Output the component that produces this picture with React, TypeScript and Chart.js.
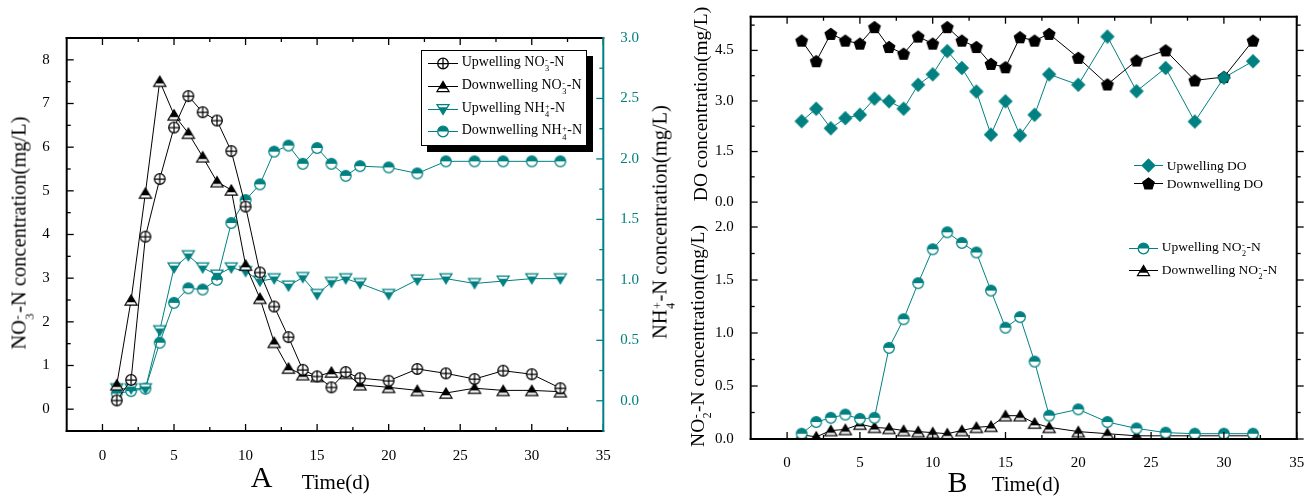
import React, { useEffect, useRef } from "react";
import { Chart, registerables } from "chart.js";

Chart.register(...registerables);

const SERIF = '"Liberation Serif", "Times New Roman", serif';
const CANVAS_FONT = "Liberation Serif";
const TEAL = "#008080";

Chart.defaults.font.family = CANVAS_FONT;

// ---------- data ----------
const days = [1, 2, 3, 4, 5, 6, 7, 8, 9, 10, 11, 12, 13, 14, 15, 16, 17, 18, 20, 22, 24, 26, 28, 30, 32];

const upNO3 = [0.2, 0.67, 3.95, 5.27, 6.45, 7.17, 6.8, 6.61, 5.91, 4.64, 3.13, 2.35, 1.65, 0.9, 0.75, 0.5, 0.85, 0.71, 0.65, 0.92, 0.82, 0.69, 0.88, 0.8, 0.48];
const downNO3 = [0.56, 2.5, 4.95, 7.51, 6.74, 6.32, 5.78, 5.21, 5.02, 3.3, 2.54, 1.53, 0.94, 0.79, 0.75, 0.85, 0.82, 0.56, 0.5, 0.43, 0.37, 0.48, 0.43, 0.43, 0.4];
const upNH4 = [0.1, 0.1, 0.1, 0.58, 1.1, 1.2, 1.1, 1.04, 1.1, 1.07, 0.99, 1.01, 0.95, 1.02, 0.88, 0.98, 1.01, 0.97, 0.88, 1.0, 1.01, 0.97, 0.99, 1.01, 1.01];
const downNH4 = [0.06, 0.08, 0.1, 0.48, 0.81, 0.93, 0.92, 1.0, 1.47, 1.66, 1.79, 2.06, 2.11, 1.96, 2.09, 1.96, 1.86, 1.94, 1.93, 1.88, 1.98, 1.98, 1.98, 1.98, 1.98];

const upDO = [2.4, 2.77, 2.19, 2.49, 2.59, 3.07, 2.99, 2.77, 3.48, 3.79, 4.48, 3.98, 3.28, 2.0, 2.99, 1.98, 2.59, 3.79, 3.48, 4.91, 3.29, 3.98, 2.39, 3.69, 4.18];
const downDO = [4.79, 4.18, 4.99, 4.79, 4.7, 5.19, 4.6, 4.4, 4.91, 4.7, 5.19, 4.79, 4.6, 4.1, 4.0, 4.89, 4.79, 4.99, 4.28, 3.49, 4.2, 4.5, 3.61, 3.71, 4.79];
const upNO2 = [0.05, 0.16, 0.2, 0.23, 0.19, 0.2, 0.86, 1.13, 1.47, 1.79, 1.95, 1.85, 1.76, 1.4, 1.05, 1.15, 0.73, 0.22, 0.28, 0.16, 0.1, 0.06, 0.05, 0.05, 0.05];
const downNO2 = [0.04, 0.02, 0.08, 0.09, 0.14, 0.11, 0.1, 0.08, 0.07, 0.06, 0.05, 0.08, 0.11, 0.12, 0.22, 0.22, 0.15, 0.11, 0.07, 0.05, 0.03, 0.03, 0.03, 0.03, 0.03];

// ---------- ticks ----------
const xTicks = [0, 5, 10, 15, 20, 25, 30, 35];
const xMinor = [2.5, 7.5, 12.5, 17.5, 22.5, 27.5, 32.5];
const no3Ticks = [0, 1, 2, 3, 4, 5, 6, 7, 8];
const no3Minor = [0.5, 1.5, 2.5, 3.5, 4.5, 5.5, 6.5, 7.5];
const nh4Ticks = [0, 0.5, 1, 1.5, 2, 2.5, 3];
const nh4Minor = [0.25, 0.75, 1.25, 1.75, 2.25, 2.75];
const doTicks = [0, 1.5, 3, 4.5];
const doMinor = [0.75, 2.25, 3.75, 5.25];
const no2Ticks = [0, 0.5, 1, 1.5, 2];
const no2Minor = [0.25, 0.75, 1.25, 1.75];

const pts = (xs: number[], ys: number[]) => xs.map((x, i) => ({ x, y: ys[i] }));

// ---------- markers ----------
function drawMarker(ctx: CanvasRenderingContext2D, kind: string, color: string, cx: number, cy: number) {
  ctx.save();
  ctx.lineWidth = 1.25;
  ctx.strokeStyle = color;
  if (kind === "circlePlus") {
    const r = 5.3;
    ctx.beginPath();
    ctx.arc(cx, cy, r, 0, Math.PI * 2);
    ctx.fillStyle = "#fff";
    ctx.fill();
    ctx.stroke();
    ctx.beginPath();
    ctx.moveTo(cx - r, cy);
    ctx.lineTo(cx + r, cy);
    ctx.moveTo(cx, cy - r);
    ctx.lineTo(cx, cy + r);
    ctx.stroke();
  } else if (kind === "halfCircle") {
    const r = 5.3;
    ctx.beginPath();
    ctx.arc(cx, cy, r, 0, Math.PI * 2);
    ctx.fillStyle = "#fff";
    ctx.fill();
    ctx.beginPath();
    ctx.arc(cx, cy, r, Math.PI, Math.PI * 2);
    ctx.closePath();
    ctx.fillStyle = color;
    ctx.fill();
    ctx.beginPath();
    ctx.arc(cx, cy, r, 0, Math.PI * 2);
    ctx.stroke();
  } else if (kind === "triUp" || kind === "triDown") {
    const w = 6, h = 10;
    const s = kind === "triUp" ? 1 : -1;
    const tip = { x: cx, y: cy - (s * h) / 2 };
    const b1 = { x: cx - w, y: cy + (s * h) / 2 };
    const b2 = { x: cx + w, y: cy + (s * h) / 2 };
    const f = 0.72;
    const p1 = { x: tip.x + (b1.x - tip.x) * f, y: tip.y + (b1.y - tip.y) * f };
    const p2 = { x: tip.x + (b2.x - tip.x) * f, y: tip.y + (b2.y - tip.y) * f };
    ctx.beginPath();
    ctx.moveTo(tip.x, tip.y);
    ctx.lineTo(b1.x, b1.y);
    ctx.lineTo(b2.x, b2.y);
    ctx.closePath();
    ctx.fillStyle = "#fff";
    ctx.fill();
    ctx.beginPath();
    ctx.moveTo(tip.x, tip.y);
    ctx.lineTo(p1.x, p1.y);
    ctx.lineTo(p2.x, p2.y);
    ctx.closePath();
    ctx.fillStyle = color;
    ctx.fill();
    ctx.beginPath();
    ctx.moveTo(tip.x, tip.y);
    ctx.lineTo(b1.x, b1.y);
    ctx.lineTo(b2.x, b2.y);
    ctx.closePath();
    ctx.stroke();
  } else if (kind === "diamond") {
    const r = 6.3;
    ctx.beginPath();
    ctx.moveTo(cx, cy - r);
    ctx.lineTo(cx + r, cy);
    ctx.lineTo(cx, cy + r);
    ctx.lineTo(cx - r, cy);
    ctx.closePath();
    ctx.fillStyle = color;
    ctx.fill();
    ctx.stroke();
  } else if (kind === "pentagon") {
    const r = 6;
    ctx.beginPath();
    for (let k = 0; k < 5; k++) {
      const ang = -Math.PI / 2 + (k * 2 * Math.PI) / 5;
      const px = cx + r * Math.cos(ang);
      const py = cy + 0.6 + r * Math.sin(ang);
      if (k === 0) ctx.moveTo(px, py);
      else ctx.lineTo(px, py);
    }
    ctx.closePath();
    ctx.fillStyle = color;
    ctx.fill();
    ctx.stroke();
  }
  ctx.restore();
}

function makeMarker(kind: string, color: string): HTMLCanvasElement {
  const c = document.createElement("canvas");
  c.width = 16;
  c.height = 16;
  const ctx = c.getContext("2d")!;
  drawMarker(ctx, kind, color, 8, 8);
  return c;
}

// ---------- frame / tick plugin ----------
type TickSpec = { scale: string; pos: string; major: number[]; minor: number[]; color: string; out?: boolean };
type BorderSpec = { pos: string; color: string };

function framePlugin(id: string, borders: BorderSpec[], ticks: TickSpec[]) {
  return {
    id,
    afterDatasetsDraw(chart: any) {
      const { ctx, chartArea: a } = chart;
      ctx.save();
      for (const t of ticks) {
        const sc = chart.scales[t.scale];
        const horiz = t.pos === "top" || t.pos === "bottom";
        const base = t.pos === "left" ? a.left : t.pos === "right" ? a.right : t.pos === "top" ? a.top : a.bottom;
        const inward = t.pos === "left" || t.pos === "top" ? 1 : -1;
        const dir = t.out ? -inward : inward;
        ctx.strokeStyle = t.color;
        ctx.lineWidth = 1.3;
        const mark = (v: number, len: number) => {
          const p = sc.getPixelForValue(v);
          if (horiz) {
            if (p < sc.left - 0.5 || p > sc.right + 0.5) return;
          } else if (p < sc.top - 0.5 || p > sc.bottom + 0.5) return;
          ctx.beginPath();
          if (horiz) {
            ctx.moveTo(p, base);
            ctx.lineTo(p, base + dir * len);
          } else {
            ctx.moveTo(base, p);
            ctx.lineTo(base + dir * len, p);
          }
          ctx.stroke();
        };
        t.major.forEach((v) => mark(v, 7));
        t.minor.forEach((v) => mark(v, 4));
      }
      ctx.lineWidth = 2;
      ctx.lineCap = "square";
      for (const b of borders) {
        ctx.strokeStyle = b.color;
        ctx.beginPath();
        if (b.pos === "left") {
          ctx.moveTo(a.left, a.top);
          ctx.lineTo(a.left, a.bottom);
        } else if (b.pos === "right") {
          ctx.moveTo(a.right, a.top);
          ctx.lineTo(a.right, a.bottom);
        } else if (b.pos === "top") {
          ctx.moveTo(a.left, a.top);
          ctx.lineTo(a.right, a.top);
        } else {
          ctx.moveTo(a.left, a.bottom);
          ctx.lineTo(a.right, a.bottom);
        }
        ctx.stroke();
      }
      ctx.restore();
    },
  };
}

const tickFont = { family: CANVAS_FONT, size: 15 };
const setTicks = (vals: number[]) => (s: any) => {
  s.ticks = vals.map((v) => ({ value: v }));
};

// ---------- helper text components ----------
function SS({ sub, sup }: { sub: string; sup: string }) {
  return (
    <span
      style={{
        display: "inline-flex",
        flexDirection: "column",
        fontSize: "0.6em",
        lineHeight: 1,
        verticalAlign: "0.38em",
        margin: "0 0.5px",
      }}
    >
      <span style={{ lineHeight: 1 }}>{sup}</span>
      <span style={{ lineHeight: 1 }}>{sub}</span>
    </span>
  );
}

function Sym({ kind, color, width }: { kind: string; color: string; width: number }) {
  const ref = useRef<HTMLCanvasElement>(null);
  useEffect(() => {
    const c = ref.current;
    if (!c) return;
    const ctx = c.getContext("2d")!;
    ctx.clearRect(0, 0, c.width, c.height);
    ctx.strokeStyle = color;
    ctx.lineWidth = 1;
    ctx.beginPath();
    ctx.moveTo(0, 8.5);
    ctx.lineTo(width, 8.5);
    ctx.stroke();
    drawMarker(ctx, kind, color, width / 2, 8.5);
  }, [kind, color, width]);
  return <canvas ref={ref} width={width} height={17} style={{ display: "block" }} />;
}

function LegendRow({
  left, cy, kind, color, width, gap, size, children,
}: {
  left: number; cy: number; kind: string; color: string; width: number; gap: number; size: number; children: React.ReactNode;
}) {
  return (
    <div
      style={{
        position: "absolute",
        left,
        top: cy - 8.5,
        height: 17,
        display: "flex",
        alignItems: "center",
        whiteSpace: "nowrap",
        fontSize: size,
        lineHeight: "17px",
      }}
    >
      <Sym kind={kind} color={color} width={width} />
      <span style={{ marginLeft: gap }}>{children}</span>
    </div>
  );
}

function VTitle({ cx, cy, size, children }: { cx: number; cy: number; size: number; children: React.ReactNode }) {
  return (
    <div
      style={{
        position: "absolute",
        left: cx,
        top: cy,
        transform: "translate(-50%, -50%) rotate(-90deg)",
        whiteSpace: "nowrap",
        fontSize: size,
        lineHeight: 1.2,
      }}
    >
      {children}
    </div>
  );
}

export default function App() {
  const refA = useRef<HTMLCanvasElement>(null);
  const refB = useRef<HTMLCanvasElement>(null);

  useEffect(() => {
    const mCirclePlus = makeMarker("circlePlus", "#000");
    const mTriBlack = makeMarker("triUp", "#000");
    const mTriDownTeal = makeMarker("triDown", TEAL);
    const mHalfTeal = makeMarker("halfCircle", TEAL);
    const mDiamond = makeMarker("diamond", TEAL);
    const mPent = makeMarker("pentagon", "#000");

    const ds = (data: any, color: string, marker: HTMLCanvasElement, axis: string) => ({
      data,
      yAxisID: axis,
      borderColor: color,
      backgroundColor: color,
      borderWidth: 1,
      pointStyle: marker,
      pointRadius: 5,
      pointHoverRadius: 5,
      fill: false,
      tension: 0,
    });

    const chartA = new Chart(refA.current!, {
      type: "line",
      data: {
        datasets: [
          ds(pts(days, upNO3), "#000", mCirclePlus, "y"),
          ds(pts(days, downNO3), "#000", mTriBlack, "y"),
          ds(pts(days, upNH4), TEAL, mTriDownTeal, "y1"),
          ds(pts(days, downNH4), TEAL, mHalfTeal, "y1"),
        ] as any,
      },
      options: {
        responsive: false,
        animation: false,
        devicePixelRatio: 1,
        events: [],
        layout: { padding: { left: 0, top: 38, right: 0, bottom: 0 } },
        plugins: { legend: { display: false }, tooltip: { enabled: false } },
        scales: {
          x: {
            type: "linear",
            min: -2.5,
            max: 35,
            grid: { display: false },
            border: { display: false },
            ticks: { font: tickFont, color: "#000", padding: 8, maxRotation: 0, autoSkip: false },
            afterBuildTicks: setTicks(xTicks),
            afterFit: (s: any) => {
              s.height = 66;
              s.paddingLeft = 0;
              s.paddingRight = 0;
            },
          },
          y: {
            type: "linear",
            position: "left",
            min: -0.5,
            max: 8.5,
            grid: { display: false },
            border: { display: false },
            ticks: { font: tickFont, color: "#000", padding: 9, autoSkip: false, callback: (v: any) => String(v) },
            afterBuildTicks: setTicks(no3Ticks),
            afterFit: (s: any) => {
              s.width = 66.7;
              s.paddingTop = 0;
              s.paddingBottom = 0;
            },
          },
          y1: {
            type: "linear",
            position: "right",
            min: -0.25,
            max: 3.0,
            grid: { display: false },
            border: { display: false },
            ticks: { font: tickFont, color: TEAL, padding: 9, autoSkip: false, callback: (v: any) => Number(v).toFixed(1) },
            afterBuildTicks: setTicks(nh4Ticks),
            afterFit: (s: any) => {
              s.width = 46.7;
              s.paddingTop = 0;
              s.paddingBottom = 0;
            },
          },
        },
      } as any,
      plugins: [
        framePlugin(
          "frameA",
          [
            { pos: "left", color: "#000" },
            { pos: "top", color: "#000" },
            { pos: "bottom", color: "#000" },
            { pos: "right", color: TEAL },
          ],
          [
            { scale: "x", pos: "bottom", major: xTicks, minor: xMinor, color: "#000" },
            { scale: "x", pos: "top", major: xTicks, minor: xMinor, color: "#000" },
            { scale: "y", pos: "left", major: no3Ticks, minor: no3Minor, color: "#000" },
            { scale: "y1", pos: "right", major: nh4Ticks, minor: nh4Minor, color: TEAL },
          ]
        ) as any,
      ],
    });

    const chartB = new Chart(refB.current!, {
      type: "line",
      data: {
        datasets: [
          ds(pts(days, upDO), TEAL, mDiamond, "yDO"),
          ds(pts(days, downDO), "#000", mPent, "yDO"),
          ds(pts(days, upNO2), TEAL, mHalfTeal, "yNO2"),
          ds(pts(days, downNO2), "#000", mTriBlack, "yNO2"),
        ] as any,
      },
      options: {
        responsive: false,
        animation: false,
        devicePixelRatio: 1,
        events: [],
        layout: { padding: { left: 0, top: 16.7, right: 9.3, bottom: 0 } },
        plugins: { legend: { display: false }, tooltip: { enabled: false } },
        scales: {
          x: {
            type: "linear",
            min: -2.5,
            max: 35,
            grid: { display: false },
            border: { display: false },
            ticks: { font: tickFont, color: "#000", padding: 7, maxRotation: 0, autoSkip: false },
            afterBuildTicks: setTicks(xTicks),
            afterFit: (s: any) => {
              s.height = 58;
              s.paddingLeft = 0;
              s.paddingRight = 0;
            },
          },
          yDO: {
            type: "linear",
            position: "left",
            stack: "b",
            stackWeight: 185.4,
            weight: 1,
            min: 0,
            max: 5.5,
            grid: { display: false },
            border: { display: false },
            ticks: { font: tickFont, color: "#000", padding: 9, autoSkip: false, callback: (v: any) => Number(v).toFixed(1) },
            afterBuildTicks: setTicks(doTicks),
            afterFit: (s: any) => {
              s.width = 100.7;
              s.paddingTop = 0;
              s.paddingBottom = 0;
            },
          },
          yNO2: {
            type: "linear",
            position: "left",
            stack: "b",
            stackWeight: 236.9,
            weight: 0,
            min: 0,
            max: 2.235,
            grid: { display: false },
            border: { display: false },
            ticks: { font: tickFont, color: "#000", padding: 9, autoSkip: false, callback: (v: any) => Number(v).toFixed(1) },
            afterBuildTicks: setTicks(no2Ticks),
            afterFit: (s: any) => {
              s.width = 100.7;
              s.paddingTop = 0;
              s.paddingBottom = 0;
            },
          },
        },
      } as any,
      plugins: [
        framePlugin(
          "frameB",
          [
            { pos: "left", color: "#000" },
            { pos: "top", color: "#000" },
            { pos: "bottom", color: "#000" },
            { pos: "right", color: "#000" },
          ],
          [
            { scale: "x", pos: "bottom", major: xTicks, minor: xMinor, color: "#000" },
            { scale: "x", pos: "top", major: xTicks, minor: xMinor, color: "#000" },
            { scale: "yDO", pos: "left", major: doTicks, minor: doMinor, color: "#000" },
            { scale: "yNO2", pos: "left", major: no2Ticks, minor: no2Minor, color: "#000" },
            { scale: "yDO", pos: "right", major: doTicks, minor: doMinor, color: "#000", out: true },
            { scale: "yNO2", pos: "right", major: no2Ticks, minor: no2Minor, color: "#000", out: true },
          ]
        ) as any,
      ],
    });

    return () => {
      chartA.destroy();
      chartB.destroy();
    };
  }, []);

  return (
    <div
      style={{
        position: "fixed",
        left: 0,
        top: 0,
        width: 1306,
        height: 497,
        background: "#fff",
        overflow: "hidden",
        fontFamily: SERIF,
        color: "#000",
      }}
    >
      <canvas ref={refA} width={650} height={497} style={{ position: "absolute", left: 0, top: 0, width: 650, height: 497 }} />
      <canvas ref={refB} width={656} height={497} style={{ position: "absolute", left: 650, top: 0, width: 656, height: 497 }} />

      {/* Axis titles chart A */}
      <VTitle cx={21} cy={233} size={20.5}>
        NO<SS sub="3" sup="-" />-N concentration(mg/L)
      </VTitle>
      <VTitle cx={662} cy={221.5} size={20.5}>
        NH<SS sub="4" sup="+" />-N concentration(mg/L)
      </VTitle>

      {/* Axis titles chart B */}
      <VTitle cx={701} cy={103.5} size={19.5}>
        DO concentration(mg/L)
      </VTitle>
      <VTitle cx={700} cy={336} size={19.5}>
        NO<SS sub="2" sup="-" />-N concentration(mg/L)
      </VTitle>

      {/* Panel labels and x titles */}
      <div style={{ position: "absolute", left: 261.7, top: 461.6, transform: "translateX(-50%)", fontSize: 30, lineHeight: 1 }}>A</div>
      <div style={{ position: "absolute", left: 301.7, top: 472.4, fontSize: 21, lineHeight: 1, whiteSpace: "nowrap" }}>Time(d)</div>
      <div style={{ position: "absolute", left: 957.5, top: 466.6, transform: "translateX(-50%)", fontSize: 30, lineHeight: 1 }}>B</div>
      <div style={{ position: "absolute", left: 991.7, top: 474, fontSize: 21, lineHeight: 1, whiteSpace: "nowrap" }}>Time(d)</div>

      {/* Legend A */}
      <div
        style={{
          position: "absolute",
          left: 420.7,
          top: 50,
          width: 166.7,
          height: 95.7,
          boxSizing: "border-box",
          border: "1.3px solid #000",
          background: "#fff",
          boxShadow: "6px 6px 0 #000",
        }}
      />
      <LegendRow left={428} cy={63.3} kind="circlePlus" color="#000" width={30} gap={3.7} size={14}>
        Upwelling NO<SS sub="3" sup="-" />-N
      </LegendRow>
      <LegendRow left={428} cy={86} kind="triUp" color="#000" width={30} gap={3.7} size={14}>
        Downwelling NO<SS sub="3" sup="-" />-N
      </LegendRow>
      <LegendRow left={428} cy={109} kind="triDown" color={TEAL} width={30} gap={3.7} size={14}>
        Upwelling NH<SS sub="4" sup="+" />-N
      </LegendRow>
      <LegendRow left={428} cy={131.7} kind="halfCircle" color={TEAL} width={30} gap={3.7} size={14}>
        Downwelling NH<SS sub="4" sup="+" />-N
      </LegendRow>

      {/* Legend B (DO) */}
      <LegendRow left={1134} cy={165.7} kind="diamond" color={TEAL} width={29} gap={3.7} size={13.5}>
        Upwelling DO
      </LegendRow>
      <LegendRow left={1134} cy={183.3} kind="pentagon" color="#000" width={29} gap={3.7} size={13.5}>
        Downwelling DO
      </LegendRow>

      {/* Legend B (NO2) */}
      <LegendRow left={1129} cy={248.3} kind="halfCircle" color={TEAL} width={29} gap={3.7} size={13.5}>
        Upwelling NO<SS sub="2" sup="-" />-N
      </LegendRow>
      <LegendRow left={1129} cy={270.7} kind="triUp" color="#000" width={29} gap={3.7} size={13.5}>
        Downwelling NO<SS sub="2" sup="-" />-N
      </LegendRow>
    </div>
  );
}
